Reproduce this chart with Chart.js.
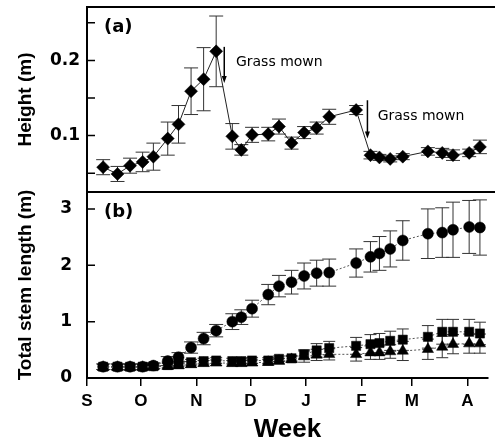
<!DOCTYPE html>
<html>
<head>
<meta charset="utf-8">
<script src="https://cdn.jsdelivr.net/npm/chart.js@4.4.1/dist/chart.umd.min.js"></script>
<style>
html,body{margin:0;padding:0;background:#fff;}
#wrap{position:relative;width:495px;height:445px;background:#fff;}
#wrap canvas{position:absolute;left:0;top:0;}
</style>
</head>
<body>
<div id="wrap">
<canvas id="chartB" width="495" height="445"></canvas>
<canvas id="chartA" width="495" height="445"></canvas>
</div>
<script>
// ---- data (x = days since 1 September) ----
const sampleDays = [9,17,24,31,37,45,51,58,65,72,81,86,92,101,107,114,121,128,135,150,158,163,169,176,190,198,204,213,219];

const heightValues = [0.058,0.049,0.060,0.065,0.072,0.096,0.115,0.159,0.175,0.212,0.099,0.081,0.101,0.102,0.112,0.090,0.104,0.110,0.125,0.134,0.074,0.071,0.069,0.072,0.079,0.077,0.074,0.077,0.085];
const heightErrors = [0.010,0.010,0.010,0.013,0.018,0.022,0.025,0.031,0.042,0.047,0.017,0.007,0.010,0.009,0.010,0.008,0.008,0.008,0.010,0.006,0.005,0.004,0.004,0.004,0.005,0.006,0.007,0.005,0.009];

const circleValues = [0.20,0.20,0.20,0.20,0.22,0.30,0.37,0.54,0.70,0.84,1.00,1.08,1.23,1.48,1.63,1.70,1.81,1.86,1.87,2.04,2.15,2.21,2.29,2.44,2.56,2.58,2.63,2.68,2.67];
const circleErrors = [0.05,0.05,0.05,0.05,0.05,0.08,0.08,0.10,0.11,0.11,0.14,0.13,0.15,0.18,0.19,0.21,0.23,0.23,0.24,0.25,0.27,0.30,0.32,0.35,0.44,0.44,0.49,0.47,0.49];

const squareValues = [0.20,0.20,0.20,0.20,0.21,0.23,0.25,0.28,0.30,0.31,0.30,0.30,0.31,0.31,0.34,0.35,0.42,0.49,0.53,0.57,0.60,0.62,0.66,0.68,0.73,0.82,0.82,0.82,0.79];
const squareErrors = [0.05,0.05,0.05,0.05,0.05,0.05,0.05,0.05,0.05,0.05,0.05,0.05,0.05,0.05,0.05,0.05,0.08,0.12,0.12,0.15,0.17,0.17,0.17,0.19,0.20,0.22,0.22,0.22,0.20];

const triangleValues = [0.19,0.19,0.19,0.19,0.20,0.21,0.22,0.24,0.26,0.27,0.26,0.26,0.27,0.28,0.30,0.33,0.38,0.41,0.42,0.42,0.45,0.45,0.47,0.48,0.51,0.55,0.60,0.61,0.61];
const triangleErrors = [0.05,0.05,0.05,0.05,0.05,0.05,0.05,0.05,0.05,0.05,0.05,0.05,0.05,0.05,0.05,0.05,0.10,0.10,0.10,0.12,0.12,0.12,0.12,0.17,0.18,0.19,0.17,0.17,0.17];

const monthTickDays = [0,30,61,91,122,153,181,212];
const monthTickLabels = ['S','O','N','D','J','F','M','A'];

const heightTickValues = [0.05,0.10,0.15,0.20,0.25];
const heightTickLabels = ['','0.1','','0.2',''];

const stemTickValues = [0,1,2,3];
const stemTickLabels = ['0','1','2','3'];

// mowing annotations in data coordinates
const mowingArrowDays = [76.5,156.3];
const mowingArrowTops = [0.218,0.147];
const mowingArrowBottoms = [0.170,0.096];
const mowingTextDays = [83.0,162.0];
const mowingTextValues = [0.198,0.126];
const mowingText = 'Grass mown';

// ---- shared styling ----
const SANS = "'Liberation Sans', Arial, Helvetica, sans-serif";
const WIDE = "'DejaVu Sans', 'Liberation Sans', Arial, sans-serif";
const X_MIN = 0, X_MAX = 223.5;
const AXIS_W = 87;

function toPts(vals){ return sampleDays.map((d,i)=>({x:d,y:vals[i]})); }
function noPad(s){ s.paddingTop = 0; s.paddingBottom = 0; s.paddingLeft = 0; s.paddingRight = 0; }

const errorBarPlugin = {
  id:'errorBars',
  beforeDatasetsDraw(chart){
    const ctx = chart.ctx, xs = chart.scales.x, ys = chart.scales.y;
    ctx.save();
    chart.data.datasets.forEach(ds=>{
      if(!ds.errors) return;
      ctx.strokeStyle = ds.errorColor || '#333';
      ctx.lineWidth = 1;
      ds.data.forEach((p,i)=>{
        const e = ds.errors[i];
        const px = xs.getPixelForValue(p.x);
        const yt = ys.getPixelForValue(p.y + e);
        const yb = ys.getPixelForValue(p.y - e);
        const cw = ds.capHalf || 7;
        ctx.beginPath();
        ctx.moveTo(px, yt); ctx.lineTo(px, yb);
        ctx.moveTo(px-cw, yt); ctx.lineTo(px+cw, yt);
        ctx.moveTo(px-cw, yb); ctx.lineTo(px+cw, yb);
        ctx.stroke();
      });
    });
    ctx.restore();
  }
};

const framePlugin = {
  id:'frame',
  afterDraw(chart, args, opts){
    const ctx = chart.ctx, a = chart.chartArea, ys = chart.scales.y;
    ctx.save();
    ctx.strokeStyle = '#000';
    ctx.lineWidth = 2;
    ctx.beginPath();
    ctx.moveTo(a.left, a.top); ctx.lineTo(chart.width, a.top);
    if(opts.bottomLine){ ctx.moveTo(a.left, a.bottom); ctx.lineTo(chart.width, a.bottom); }
    ctx.moveTo(a.left, a.top - 1); ctx.lineTo(a.left, a.bottom + 1);
    ctx.stroke();
    // inward y ticks
    ctx.lineWidth = 1.5;
    ctx.beginPath();
    ys.ticks.forEach(t=>{
      const py = ys.getPixelForValue(t.value);
      ctx.moveTo(a.left, py); ctx.lineTo(a.left + 8, py);
    });
    ctx.stroke();
    // panel label
    ctx.fillStyle = '#000';
    ctx.font = "bold 18px " + WIDE;
    ctx.textBaseline = 'middle';
    ctx.textAlign = 'left';
    ctx.fillText(opts.label, a.left + 17, a.top + 20);
    ctx.restore();
  }
};

const mowingPlugin = {
  id:'mowing',
  afterDatasetsDraw(chart){
    const ctx = chart.ctx, xs = chart.scales.x, ys = chart.scales.y;
    ctx.save();
    ctx.strokeStyle = '#000';
    ctx.fillStyle = '#000';
    mowingArrowDays.forEach((d,i)=>{
      const px = xs.getPixelForValue(d);
      const y1 = ys.getPixelForValue(mowingArrowTops[i]);
      const y2 = ys.getPixelForValue(mowingArrowBottoms[i]);
      ctx.lineWidth = 1.5;
      ctx.beginPath();
      ctx.moveTo(px, y1); ctx.lineTo(px, y2 - 5);
      ctx.stroke();
      ctx.beginPath();
      ctx.moveTo(px - 2.5, y2 - 7); ctx.lineTo(px + 2.5, y2 - 7); ctx.lineTo(px, y2);
      ctx.closePath(); ctx.fill();
      ctx.font = "14px " + WIDE;
      ctx.textAlign = 'left';
      ctx.textBaseline = 'middle';
      ctx.fillText(mowingText, xs.getPixelForValue(mowingTextDays[i]), ys.getPixelForValue(mowingTextValues[i]));
    });
    ctx.restore();
  }
};

const commonBase = {
  responsive:false,
  animation:false,
  events:[],
  plugins:{legend:{display:false}, tooltip:{enabled:false}},
};

// ---- chart (a): height ----
new Chart(document.getElementById('chartA'), {
  type:'line',
  data:{datasets:[{
    data: toPts(heightValues),
    errors: heightErrors,
    errorColor:'#333',
    capHalf:7,
    borderColor:'#222',
    borderWidth:1,
    tension:0,
    pointStyle:'rectRot',
    pointRadius:6.5,
    pointBackgroundColor:'#000',
    pointBorderColor:'#000',
    pointBorderWidth:0.5,
    clip:false
  }]},
  options:Object.assign({}, commonBase, {
    layout:{padding:{left:0,right:0,top:5,bottom:253}},
    plugins:Object.assign({}, commonBase.plugins, {frame:{label:'(a)', bottomLine:true}}),
    scales:{
      x:{type:'linear', min:X_MIN, max:X_MAX, display:false, afterFit:noPad},
      y:{
        type:'linear', min:0.025, max:0.271,
        afterBuildTicks:s=>{ s.ticks = heightTickValues.map(v=>({value:v})); },
        afterFit:s=>{ s.width = AXIS_W; noPad(s); },
        grid:{display:false, drawTicks:false},
        border:{display:false},
        ticks:{
          callback:(v,i)=>heightTickLabels[i],
          color:'#000',
          padding:7,
          font:{family:WIDE, weight:'bold', size:17}
        },
        title:{display:true, text:'Height (m)', color:'#000',
          font:{family:SANS, weight:'bold', size:19}, padding:{top:14,bottom:0}}
      }
    }
  }),
  plugins:[errorBarPlugin, framePlugin, mowingPlugin]
});

// ---- chart (b): total stem length ----
new Chart(document.getElementById('chartB'), {
  type:'line',
  data:{datasets:[
    {
      data: toPts(triangleValues), errors: triangleErrors, capHalf:6,
      borderColor:'#555', borderWidth:1, borderDash:[2,2], tension:0,
      pointStyle:'triangle', pointRadius:6.5,
      pointBackgroundColor:'#000', pointBorderColor:'#000', pointBorderWidth:0.5, clip:false
    },
    {
      data: toPts(squareValues), errors: squareErrors, capHalf:6,
      borderColor:'#555', borderWidth:1, borderDash:[2,2], tension:0,
      pointStyle:'rect', pointRadius:6.5,
      pointBackgroundColor:'#000', pointBorderColor:'#000', pointBorderWidth:0.5, clip:false
    },
    {
      data: toPts(circleValues), errors: circleErrors, capHalf:7,
      borderColor:'#555', borderWidth:1, borderDash:[2,2], tension:0,
      pointStyle:'circle', pointRadius:5.5,
      pointBackgroundColor:'#000', pointBorderColor:'#000', pointBorderWidth:0.5, clip:false
    }
  ]},
  options:Object.assign({}, commonBase, {
    layout:{padding:{left:0,right:0,top:192,bottom:0}},
    plugins:Object.assign({}, commonBase.plugins, {frame:{label:'(b)', bottomLine:false}}),
    scales:{
      x:{
        type:'linear', min:X_MIN, max:X_MAX,
        afterBuildTicks:s=>{ s.ticks = monthTickDays.map(v=>({value:v})); },
        afterFit:s=>{ s.height = 67; noPad(s); },
        grid:{display:true, drawOnChartArea:false, drawTicks:true, tickLength:8, color:'#000', lineWidth:1.5},
        border:{display:true, color:'#000', width:2},
        ticks:{
          callback:(v,i)=>monthTickLabels[i],
          color:'#000', padding:5, maxRotation:0, autoSkip:false,
          font:{family:SANS, weight:'bold', size:17}
        },
        title:{display:true, text:'Week', color:'#000',
          font:{family:SANS, weight:'bold', size:26}, padding:{top:0,bottom:0}}
      },
      y:{
        type:'linear', min:0, max:3.3,
        afterBuildTicks:s=>{ s.ticks = stemTickValues.map(v=>({value:v})); },
        afterFit:s=>{ s.width = AXIS_W; noPad(s); },
        grid:{display:false, drawTicks:false},
        border:{display:false},
        ticks:{
          callback:(v,i)=>stemTickLabels[i],
          color:'#000', padding:15,
          font:{family:WIDE, weight:'bold', size:17}
        },
        title:{display:true, text:'Total stem length (m)', color:'#000',
          font:{family:SANS, weight:'bold', size:19}, padding:{top:14,bottom:0}}
      }
    }
  }),
  plugins:[errorBarPlugin, framePlugin]
});
</script>
</body>
</html>
